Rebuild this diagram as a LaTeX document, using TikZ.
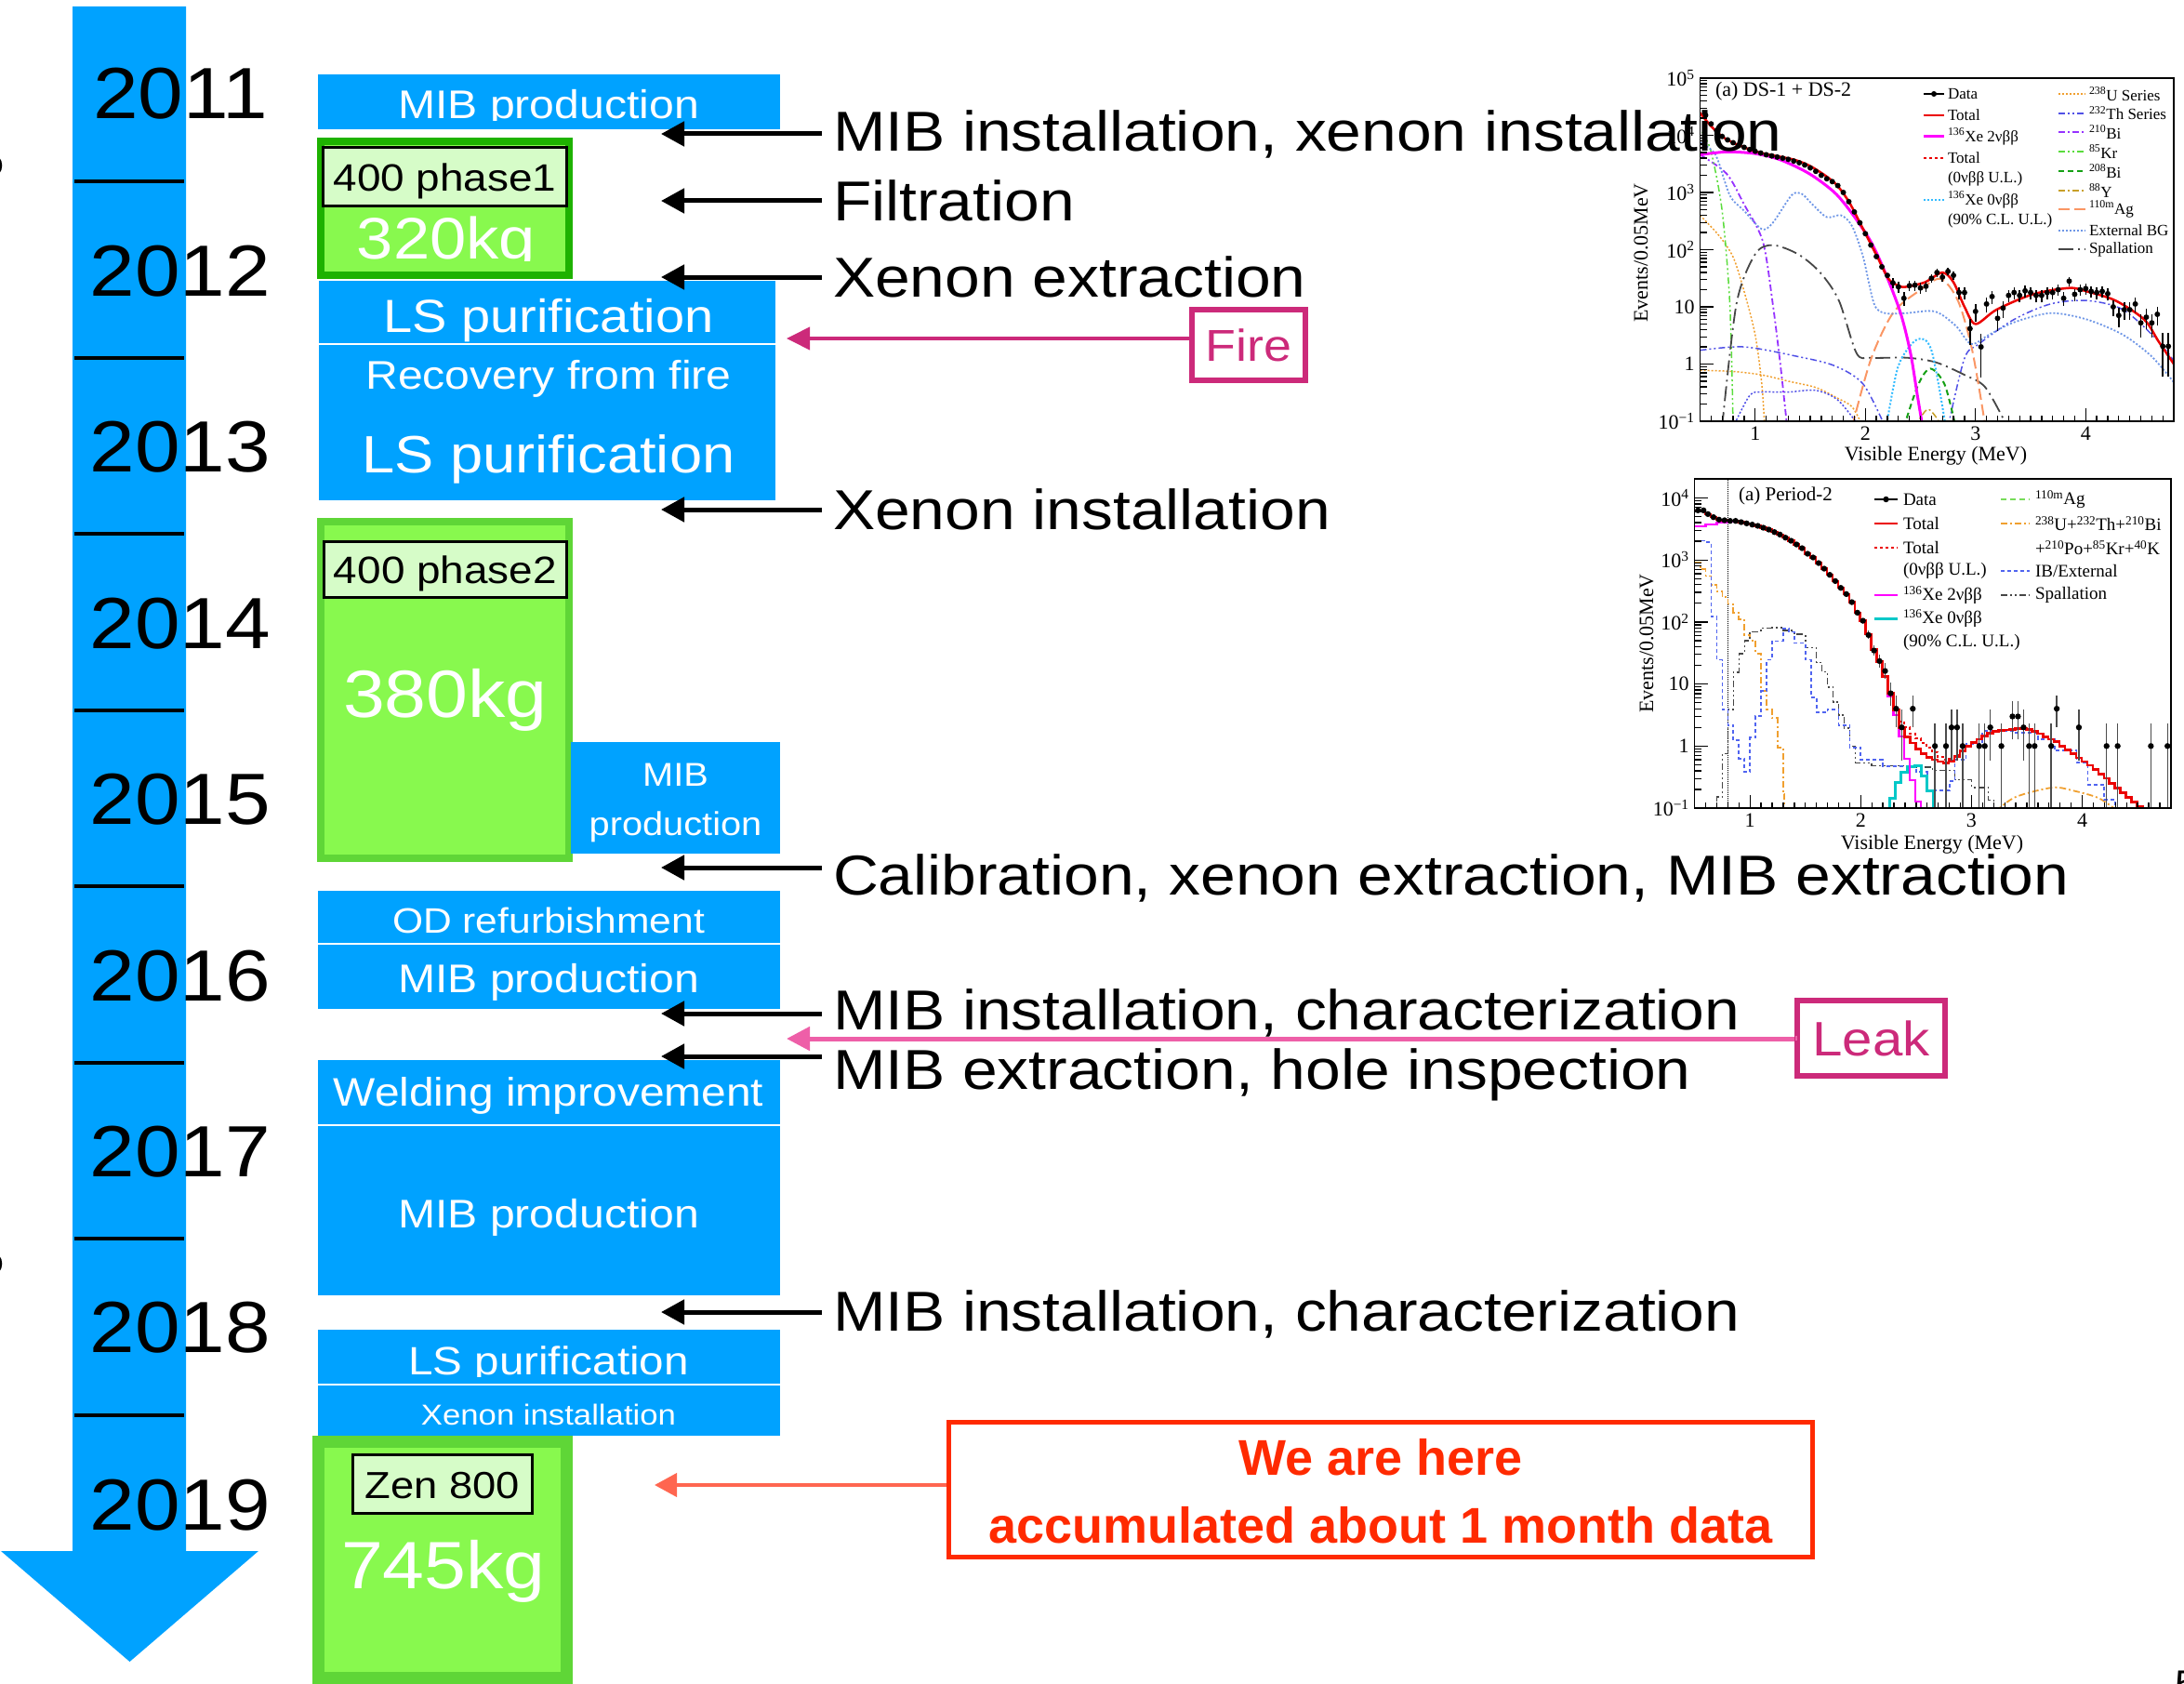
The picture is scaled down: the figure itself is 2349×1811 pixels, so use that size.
\documentclass[tikz,border=0pt]{standalone}
\usepackage{fontspec}
\setmainfont{Liberation Sans}[FakeStretch=1.12]
\newfontfamily\plotfont{Liberation Serif}
\newfontfamily\redfont{Liberation Sans}
\usetikzlibrary{arrows.meta}
\definecolor{tlblue}{RGB}{0,162,255}
\definecolor{gborderA}{RGB}{30,178,0}
\definecolor{gborderB}{RGB}{95,214,55}
\definecolor{gfill}{RGB}{136,249,78}
\definecolor{lblfill}{RGB}{214,252,200}
\definecolor{firemag}{RGB}{204,42,122}
\definecolor{leakpink}{RGB}{238,95,168}
\definecolor{herered}{RGB}{255,42,0}
\definecolor{herearrow}{RGB}{255,102,80}
\definecolor{pred}{RGB}{235,0,0}
\definecolor{pmag}{RGB}{255,0,255}
\definecolor{pcyanA}{RGB}{51,187,255}
\definecolor{pcyanB}{RGB}{0,200,200}
\definecolor{porange}{RGB}{240,160,48}
\definecolor{pth}{RGB}{80,80,230}
\definecolor{pbi}{RGB}{150,50,255}
\definecolor{pkr}{RGB}{90,220,60}
\definecolor{pbib}{RGB}{20,160,20}
\definecolor{pyy}{RGB}{200,160,40}
\definecolor{pag}{RGB}{250,150,100}
\definecolor{pext}{RGB}{110,150,230}
\definecolor{pspal}{RGB}{70,70,70}
\definecolor{pib}{RGB}{80,100,240}
\definecolor{pagb}{RGB}{120,220,90}
\newcommand\setfs[1]{\fontsize{#1}{#1}\selectfont}
\begin{document}
\begin{tikzpicture}[x=1pt,y=-1pt,
  every node/.style={inner sep=0pt,outer sep=0pt},
  bluebox/.style={fill=tlblue,draw=none},
  wtext/.style={text=white,anchor=base},
  greenbox/.style={fill=gfill,line width=8pt},
  lblbox/.style={fill=lblfill,draw=black,line width=3pt},
  lbltext/.style={anchor=base,font=\setfs{41}},
  yearlabel/.style={anchor=base,font=\setfs{78}},
  rtext/.style={anchor=base west,font=\setfs{60.5}},
  blackarrow/.style={line width=5pt,-{Triangle[length=25pt,width=26pt]}},
  sepline/.style={draw=white,line width=2pt},
  yearsep/.style={draw=black,line width=4pt},
  axtick/.style={line width=1.3pt},
  plotframe/.style={draw=black,line width=1.6pt},
  ptext/.style={font=\plotfont\setfs{#1}},
  dotln/.style={dash pattern=on 2pt off 2pt},
  dshdot/.style={dash pattern=on 7pt off 3pt on 2pt off 3pt},
  dshdotdot/.style={dash pattern=on 7pt off 3pt on 2pt off 3pt on 2pt off 3pt},
  lngdash/.style={dash pattern=on 12pt off 5pt},
  lngdashdot/.style={dash pattern=on 16pt off 5pt on 2pt off 5pt},
  medash/.style={dash pattern=on 6pt off 4pt},
  cTot/.style={draw=pred,line width=2.5pt},
  cTotD/.style={draw=pred,line width=2pt,dash pattern=on 3pt off 3pt},
  c2nu/.style={draw=pmag,line width=3pt},
  c0nu/.style={draw=pcyanA,line width=2pt,dotln},
  cU/.style={draw=porange,line width=1.5pt,dotln},
  cTh/.style={draw=pth,line width=1.5pt,dshdotdot},
  cThb/.style={draw=pth,line width=1.5pt,dotln},
  cBi/.style={draw=pbi,line width=1.8pt,dshdot},
  cKr/.style={draw=pkr,line width=1.5pt,dshdotdot},
  cBib/.style={draw=pbib,line width=2pt,medash},
  cY/.style={draw=pyy,line width=1.5pt,dshdot},
  cAg/.style={draw=pag,line width=2pt,lngdash},
  cExt/.style={draw=pext,line width=1.8pt,dotln},
  cSpal/.style={draw=pspal,line width=1.8pt,lngdashdot},
  b2nu/.style={draw=pmag,line width=2.2pt},
  b0nu/.style={draw=pcyanB,line width=3pt},
  bAg/.style={draw=pagb,line width=2pt,medash},
  bU/.style={draw=porange,line width=1.8pt,dshdot},
  bIB/.style={draw=pib,line width=1.8pt,dash pattern=on 4pt off 3pt},
  bSpal/.style={draw=pspal,line width=1.5pt,dshdotdot}
]
\useasboundingbox (0,0) rectangle (2349,1811);

% ================= TOP PLOT =================
\begin{scope}[shift={(1769.25,391.5)},x=118.5pt,y=61.5pt]
 \begin{scope}
  \clip (0.5,-1) rectangle (4.8,5);
  \draw[cU] plot[smooth] coordinates {(0.5,2.60) (0.67,2.25) (0.80,1.87) (0.9,1.27) (1.0,0.51) (1.06,-0.35) (1.09,-1.2)};
  \draw[cU] plot[smooth] coordinates {(0.5,-0.11) (0.8,-0.13) (1.06,-0.19) (1.3,-0.3) (1.55,-0.41) (1.75,-0.6) (1.88,-0.75) (1.98,-1.1)};
  \draw[cTh] plot[smooth] coordinates {(0.5,0.24) (0.9,0.30) (1.39,0.13) (1.72,-0.03) (1.98,-0.35) (2.18,-1.1)};
  \draw[cTh] plot[smooth] coordinates {(2.75,-1.1) (2.9,0.1) (3.03,0.35) (3.35,0.78) (3.68,1.05) (4.01,1.11) (4.34,0.95) (4.66,0.40) (4.8,0.05)};
  \draw[cThb] plot[smooth] coordinates {(0.8,-1.1) (0.95,-0.55) (1.06,-0.49) (1.3,-0.49) (1.55,-0.46) (1.75,-0.63) (1.95,-1.1)};
  \draw[cBi] plot[smooth] coordinates {(0.5,3.66) (0.74,3.33) (0.9,2.79) (1.07,2.14) (1.16,1.05) (1.23,-0.03) (1.29,-1.1)};
  \draw[cKr] plot[smooth] coordinates {(0.52,4.06) (0.6,3.71) (0.70,2.68) (0.77,1.05) (0.80,-1.1)};
  \draw[cSpal] plot[smooth] coordinates {(0.7,-1.1) (0.83,1.05) (1.0,1.92) (1.16,2.08) (1.39,1.92) (1.59,1.60) (1.76,1.11) (1.92,0.19) (2.05,0.11) (2.38,0.11) (2.64,0.03) (2.90,-0.19) (3.09,-0.41) (3.29,-1.1)};
  \draw[cAg] plot[smooth] coordinates {(1.88,-1.1) (2.05,0.08) (2.25,0.89) (2.48,1.27) (2.68,1.49) (2.84,1.11) (2.97,0.24) (3.09,-1.1)};
  \draw[c0nu] plot[smooth] coordinates {(2.19,-1.1) (2.30,-0.03) (2.47,0.43) (2.6,0.24) (2.73,-1.1)};
  \draw[cBib] plot[smooth] coordinates {(2.35,-1.1) (2.48,-0.36) (2.59,-0.08) (2.72,-0.36) (2.82,-1.1)};
  \draw[cY] plot[smooth] coordinates {(2.45,-1.1) (2.57,-0.79) (2.70,-1.1)};
  \draw[cExt] plot[smooth] coordinates {(0.5,3.87) (0.64,3.66) (0.77,2.95) (0.9,2.68) (1.06,2.36) (1.16,2.47) (1.33,2.95) (1.42,2.98) (1.52,2.79) (1.65,2.57) (1.78,2.6) (1.88,2.41) (1.98,1.87) (2.08,1.05) (2.18,0.89) (2.37,0.89) (2.63,0.92) (2.82,0.67) (2.96,0.35) (3.12,0.51) (3.35,0.73) (3.68,0.89) (4.01,0.78) (4.34,0.51) (4.60,0.13) (4.8,-0.32)};
  \draw[c2nu] plot[smooth] coordinates {(0.5,3.66) (0.74,3.71) (1.0,3.68) (1.23,3.57) (1.49,3.33) (1.72,3.0) (1.88,2.63) (2.05,2.14) (2.18,1.60) (2.32,0.89) (2.41,0.19) (2.47,-0.52) (2.52,-1.1)};
  \draw[cTot] plot[smooth] coordinates {(0.5,4.39) (0.6,4.16) (0.7,3.98) (0.8,3.87) (0.9,3.79) (1.0,3.72) (1.13,3.66) (1.36,3.57) (1.52,3.44) (1.72,3.17) (1.85,2.84) (1.98,2.36) (2.11,1.87) (2.21,1.49) (2.30,1.37) (2.37,1.35) (2.54,1.43) (2.70,1.60) (2.80,1.43) (2.90,1.0) (3.0,0.70) (3.19,0.95) (3.52,1.22) (3.85,1.33) (4.01,1.27) (4.27,1.11) (4.53,0.78) (4.66,0.40) (4.8,0.0)};
  \foreach \e/\v in {0.55/4.35,0.6/4.2,0.65/4.08,0.7/3.98,0.75/3.92,0.8/3.87,0.85/3.82,0.9/3.79,0.95/3.75,1.0/3.72,1.05/3.69,1.1/3.66,1.15/3.64,1.2/3.62,1.25/3.6,1.3/3.58,1.35/3.55,1.4/3.52,1.45/3.48,1.5/3.43,1.55/3.37,1.6/3.3,1.65/3.24,1.7/3.19,1.75/3.12,1.8/3.0,1.85/2.84,1.9/2.66,1.95/2.47,2.0/2.28,2.05/2.08,2.1/1.88,2.15/1.7,2.2/1.55}
   {\fill (\e,\v) circle (3pt);}
  \foreach \e/\v in {2.25/1.42,2.3/1.35,2.35/1.15,2.4/1.37,2.45/1.38,2.5/1.33,2.55/1.36,2.6/1.5,2.65/1.6,2.7/1.52,2.75/1.62,2.8/1.55,2.85/1.25,2.9/1.25,2.95/0.62,3.0/0.92,3.05/0.3,3.1/1.05,3.15/1.18,3.2/0.8,3.25/0.98,3.3/1.2,3.35/1.25,3.4/1.2,3.45/1.28,3.5/1.25,3.55/1.2,3.6/1.2,3.65/1.25,3.7/1.25,3.75/1.3,3.8/1.15,3.85/1.45,3.9/1.22,3.95/1.3,4.0/1.32,4.05/1.27,4.1/1.25,4.15/1.27,4.2/1.23,4.25/1.0,4.3/0.85,4.35/0.95,4.4/0.95,4.45/1.05,4.5/0.72,4.55/0.82,4.6/0.72,4.65/0.87,4.7/0.31,4.75/0.31}
   {\pgfmathsetmacro\nn{pow(10,\v)}
    \pgfmathsetmacro\sq{sqrt(\nn)}
    \pgfmathsetmacro\hi{log10(\nn+\sq)}
    \pgfmathsetmacro\lo{log10(max(\nn-\sq,0.03))}
    \draw[line width=1.5pt] (\e,\lo) -- (\e,\hi);
    \fill (\e,\v) circle (3pt);}
 \end{scope}
 \draw[plotframe] (0.5,-1) rectangle (4.8,5);
 \foreach \d in {-1,...,4} {
   \draw[axtick] (0.5,\d) -- ++(14pt,0);
   \foreach \k in {2,...,9} {\draw[axtick] (0.5,{\d+log10(\k)}) -- ++(7pt,0);}
 }
 \foreach \e in {1,2,3,4} {\draw[axtick] (\e,-1) -- ++(0,14pt);}
 \foreach \e in {0.6,0.7,0.8,0.9,1.1,1.2,1.3,1.4,1.5,1.6,1.7,1.8,1.9,2.1,2.2,2.3,2.4,2.5,2.6,2.7,2.8,2.9,3.1,3.2,3.3,3.4,3.5,3.6,3.7,3.8,3.9,4.1,4.2,4.3,4.4,4.5,4.6,4.7} {\draw[axtick] (\e,-1) -- ++(0,6pt);}
 \foreach \d/\t/\nm in {-1/{10\textsuperscript{−1}}/a,0/1/b,1/10/c,2/{10\textsuperscript{2}}/d,3/{10\textsuperscript{3}}/e,4/{10\textsuperscript{4}}/f,5/{10\textsuperscript{5}}/g}
   {\node[ptext=22,anchor=east] (tya\nm) at ([xshift=-6pt]0.5,\d) {\t};}
 \foreach \e in {1,2,3,4} {\node[ptext=22,anchor=north] (txa\e) at ([yshift=-6pt]\e,-1) {\e};}
\end{scope}
\node[ptext=22,rotate=90] (ytitA) at (1765,272) {Events/0.05MeV};
\node[ptext=22] (xtitA) at (2082,490) {Visible Energy (MeV)};
\node[ptext=22,anchor=west] (titA) at (1845,98) {(a) DS-1 + DS-2};
% legend top
\draw[line width=1.3pt] (2069,101) -- (2091,101); \fill (2080,101) circle (3pt);
\draw[cTot] (2069,124) -- (2091,124);
\draw[c2nu] (2069,147) -- (2091,147);
\draw[cTotD] (2069,170) -- (2091,170);
\draw[c0nu] (2069,215) -- (2091,215);
\draw[cU] (2214,101) -- (2243,101);
\draw[cTh] (2214,122) -- (2243,122);
\draw[cBi] (2214,142) -- (2243,142);
\draw[cKr] (2214,163) -- (2243,163);
\draw[cBib] (2214,184) -- (2243,184);
\draw[cY] (2214,205) -- (2243,205);
\draw[cAg] (2214,225) -- (2243,225);
\draw[cExt] (2214,248) -- (2243,248);
\draw[cSpal] (2214,268) -- (2243,268);
\node[ptext=17,anchor=west] (lgA1) at (2095,101) {Data};
\node[ptext=17,anchor=west] (lgA2) at (2095,124) {Total};
\node[ptext=17,anchor=west] (lgA3) at (2095,147) {\textsuperscript{136}Xe 2νββ};
\node[ptext=17,anchor=west] (lgA4) at (2095,170) {Total};
\node[ptext=17,anchor=west] (lgA5) at (2095,192) {(0νββ U.L.)};
\node[ptext=17,anchor=west] (lgA6) at (2095,215) {\textsuperscript{136}Xe 0νββ};
\node[ptext=17,anchor=west] (lgA7) at (2095,237) {(90\% C.L. U.L.)};
\node[ptext=17,anchor=west] (lgA8) at (2247,101) {\textsuperscript{238}U Series};
\node[ptext=17,anchor=west] (lgA9) at (2247,122) {\textsuperscript{232}Th Series};
\node[ptext=17,anchor=west] (lgA10) at (2247,142) {\textsuperscript{210}Bi};
\node[ptext=17,anchor=west] (lgA11) at (2247,163) {\textsuperscript{85}Kr};
\node[ptext=17,anchor=west] (lgA12) at (2247,184) {\textsuperscript{208}Bi};
\node[ptext=17,anchor=west] (lgA13) at (2247,205) {\textsuperscript{88}Y};
\node[ptext=17,anchor=west] (lgA14) at (2247,225) {\textsuperscript{110m}Ag};
\node[ptext=17,anchor=west] (lgA15) at (2247,248) {External BG};
\node[ptext=17,anchor=west] (lgA16) at (2247,268) {Spallation};

% ================= BOTTOM PLOT =================
\begin{scope}[shift={(1763.1,802.3)},x=119.1pt,y=66.7pt]
 \begin{scope}
  \clip (0.5,-1) rectangle (4.8,4.31);
  \draw[densely dotted,line width=1pt] (0.8,-1) -- (0.8,4.31);
  \draw[bU] plot[const plot] coordinates {(0.5,2.96) (0.55,2.85) (0.6,2.74) (0.65,2.6) (0.7,2.49) (0.75,2.4) (0.8,2.29) (0.85,2.15) (0.9,2.04) (0.95,1.79) (1.0,1.7) (1.05,1.49) (1.1,0.89) (1.15,0.59) (1.2,0.45) (1.25,-0.02) (1.3,-0.77) (1.31,-1.1)};
  \draw[bU] plot[smooth] coordinates {(3.22,-1.05) (3.40,-0.82) (3.73,-0.67) (3.92,-0.72) (4.15,-0.84) (4.32,-1.05)};
  \draw[bSpal] plot[const plot] coordinates {(0.65,-1.1) (0.7,-0.82) (0.75,-0.12) (0.8,0.59) (0.85,1.19) (0.9,1.49) (0.95,1.7) (1.0,1.84) (1.1,1.9) (1.2,1.91) (1.3,1.86) (1.4,1.8) (1.5,1.59) (1.6,1.35) (1.65,1.2) (1.7,0.95) (1.75,0.71) (1.8,0.5) (1.85,0.29) (1.9,0.0) (1.95,-0.27) (2.1,-0.32) (2.4,-0.34) (2.65,-0.39) (2.85,-0.54) (3.0,-0.67) (3.15,-0.87) (3.2,-1.1)};
  \draw[bIB] plot[const plot] coordinates {(0.5,3.31) (0.6,3.29) (0.65,2.09) (0.7,1.39) (0.75,0.59) (0.8,0.34) (0.85,0.09) (0.9,-0.2) (0.95,-0.42) (1.0,0.14) (1.05,0.49) (1.1,0.89) (1.15,1.39) (1.2,1.69) (1.3,1.89) (1.35,1.84) (1.4,1.66) (1.5,1.39) (1.55,0.79) (1.6,0.54) (1.7,0.59) (1.8,0.34) (1.9,-0.02) (2.0,-0.22) (2.2,-0.32) (2.5,-0.42) (2.6,-0.72) (2.8,-0.57) (2.85,-0.22) (2.95,0.04) (3.1,0.24) (3.4,0.21) (3.6,0.11) (3.75,-0.07) (3.95,-0.27) (4.05,-0.62) (4.2,-0.87) (4.3,-1.1)};
  \draw[b0nu] plot[const plot] coordinates {(2.25,-1.1) (2.26,-0.84) (2.31,-0.59) (2.36,-0.42) (2.42,-0.34) (2.49,-0.32) (2.55,-0.49) (2.6,-0.72) (2.66,-1.1)};
  \draw[b2nu] plot[const plot] coordinates {(0.5,3.54) (0.6,3.57) (0.7,3.6) (0.795,3.62) (0.845,3.63) (0.895,3.61) (0.945,3.59) (0.995,3.57) (1.045,3.55) (1.095,3.52) (1.145,3.49) (1.195,3.45) (1.245,3.41) (1.295,3.36) (1.345,3.31) (1.395,3.25) (1.445,3.19) (1.495,3.10) (1.545,3.04) (1.595,2.95) (1.645,2.86) (1.695,2.76) (1.745,2.66) (1.795,2.55) (1.845,2.45) (1.895,2.32) (1.945,2.15) (1.995,2.02) (2.045,1.80) (2.095,1.56) (2.145,1.36) (2.195,1.12) (2.245,0.80) (2.295,0.5) (2.345,0.15) (2.395,-0.2) (2.445,-0.55) (2.495,-0.9) (2.545,-1.1)};
  \draw[cTotD] plot[const plot] coordinates {(2.295,0.58) (2.345,0.40) (2.395,0.30) (2.445,0.2) (2.495,0.12) (2.545,0.05) (2.595,-0.02) (2.645,-0.1) (2.695,-0.18) (2.745,-0.22) (2.795,-0.2) (2.845,-0.15) (2.895,-0.07) (2.945,0.0)};
  \draw[cTot] plot[const plot] coordinates {(0.5,3.80) (0.555,3.80) (0.595,3.74) (0.645,3.69) (0.695,3.65) (0.745,3.64) (0.795,3.63) (0.845,3.63) (0.895,3.61) (0.945,3.59) (0.995,3.57) (1.045,3.55) (1.095,3.52) (1.145,3.49) (1.195,3.45) (1.245,3.41) (1.295,3.36) (1.345,3.31) (1.395,3.25) (1.445,3.19) (1.495,3.10) (1.545,3.04) (1.595,2.95) (1.645,2.86) (1.695,2.76) (1.745,2.66) (1.795,2.55) (1.845,2.45) (1.895,2.32) (1.945,2.15) (1.995,2.02) (2.045,1.80) (2.095,1.56) (2.145,1.36) (2.195,1.12) (2.245,0.85) (2.295,0.58) (2.345,0.30) (2.395,0.15) (2.445,0.05) (2.495,-0.05) (2.545,-0.12) (2.595,-0.18) (2.645,-0.22) (2.695,-0.25) (2.745,-0.27) (2.795,-0.24) (2.845,-0.17) (2.895,-0.08) (2.945,0.0) (2.995,0.06) (3.045,0.11) (3.095,0.16) (3.145,0.21) (3.195,0.24) (3.245,0.25) (3.295,0.26) (3.345,0.27) (3.395,0.28) (3.445,0.29) (3.495,0.27) (3.545,0.24) (3.595,0.2) (3.645,0.15) (3.695,0.11) (3.745,0.07) (3.795,0.0) (3.845,-0.06) (3.895,-0.12) (3.945,-0.19) (3.995,-0.25) (4.045,-0.31) (4.095,-0.38) (4.145,-0.45) (4.195,-0.52) (4.245,-0.6) (4.295,-0.68) (4.345,-0.75) (4.395,-0.83) (4.445,-0.9) (4.495,-0.98) (4.545,-1.1)};
  \foreach \e/\v in {0.53/3.80,0.58/3.80,0.62/3.74,0.67/3.69,0.72/3.65,0.77/3.64,0.82/3.63,0.87/3.63,0.92/3.61,0.97/3.59,1.02/3.57,1.07/3.55,1.12/3.52,1.17/3.49,1.22/3.45,1.27/3.41,1.32/3.36,1.37/3.31,1.42/3.25,1.47/3.19,1.52/3.10,1.57/3.04,1.62/2.95,1.67/2.86,1.72/2.76,1.77/2.66,1.82/2.55,1.87/2.45,1.92/2.32,1.97/2.15,2.02/2.02}
   {\fill (\e,\v) circle (3.2pt);}
  \foreach \e/\v in {2.07/1.79,2.12/1.54,2.17/1.37,2.22/1.21,2.27/0.85,2.32/0.602,2.37/0.301,2.47/0.602,2.67/0,2.77/0,2.82/0.301,2.87/0.301,2.92/0,3.07/0,3.12/0,3.17/0.301,3.27/0,3.37/0.477,3.42/0.477,3.47/0.301,3.52/0,3.57/0,3.72/0,3.77/0.602,3.97/0.301,4.22/0,4.32/0,4.62/0,4.77/0}
   {\pgfmathsetmacro\nn{pow(10,\v)}
    \pgfmathsetmacro\sq{sqrt(\nn)}
    \pgfmathsetmacro\hi{log10(\nn+1.3*\sq)}
    \pgfmathsetmacro\lo{log10(max(\nn-\sq,0.03))}
    \draw[line width=1.4pt,black!70] (\e,\lo) -- (\e,\hi);
    \fill (\e,\v) circle (3.2pt);}
 \end{scope}
 \draw[plotframe] (0.5,-1) rectangle (4.8,4.31);
 \foreach \d in {-1,...,3} {
   \draw[axtick] (0.5,\d) -- ++(14pt,0);
   \foreach \k in {2,...,9} {\draw[axtick] (0.5,{\d+log10(\k)}) -- ++(7pt,0);}
 }
 \draw[axtick] (0.5,4) -- ++(14pt,0);
 \draw[axtick] (0.5,{4+log10(2)}) -- ++(7pt,0);
 \foreach \e in {1,2,3,4} {\draw[axtick] (\e,-1) -- ++(0,14pt);}
 \foreach \e in {0.6,0.7,0.8,0.9,1.1,1.2,1.3,1.4,1.5,1.6,1.7,1.8,1.9,2.1,2.2,2.3,2.4,2.5,2.6,2.7,2.8,2.9,3.1,3.2,3.3,3.4,3.5,3.6,3.7,3.8,3.9,4.1,4.2,4.3,4.4,4.5,4.6,4.7} {\draw[axtick] (\e,-1) -- ++(0,6pt);}
 \foreach \d/\t/\nm in {-1/{10\textsuperscript{−1}}/a,0/1/b,1/10/c,2/{10\textsuperscript{2}}/d,3/{10\textsuperscript{3}}/e,4/{10\textsuperscript{4}}/f}
   {\node[ptext=22,anchor=east] (tyb\nm) at ([xshift=-6pt]0.5,\d) {\t};}
 \foreach \e in {1,2,3,4} {\node[ptext=22,anchor=north] (txb\e) at ([yshift=-6pt]\e,-1) {\e};}
\end{scope}
\node[ptext=22,rotate=90] (ytitB) at (1771,692) {Events/0.05MeV};
\node[ptext=22] (xtitB) at (2078,908) {Visible Energy (MeV)};
\node[ptext=21,anchor=west] (titB) at (1870,533) {(a) Period-2};
\draw[line width=1.3pt] (2016,537) -- (2041,537); \fill (2028.5,537) circle (3.2pt);
\draw[cTot] (2016,563) -- (2041,563);
\draw[cTotD] (2016,589) -- (2041,589);
\draw[b2nu] (2016,640) -- (2041,640);
\draw[b0nu] (2016,665) -- (2041,665);
\draw[bAg] (2152,537) -- (2183,537);
\draw[bU] (2152,563) -- (2183,563);
\draw[bIB] (2152,614) -- (2183,614);
\draw[bSpal] (2152,640) -- (2183,640);
\node[ptext=19,anchor=west] (lgB1) at (2047,537) {Data};
\node[ptext=19,anchor=west] (lgB2) at (2047,563) {Total};
\node[ptext=19,anchor=west] (lgB3) at (2047,589) {Total};
\node[ptext=19,anchor=west] (lgB4) at (2047,614) {(0νββ U.L.)};
\node[ptext=19,anchor=west] (lgB5) at (2047,640) {\textsuperscript{136}Xe 2νββ};
\node[ptext=19,anchor=west] (lgB6) at (2047,665) {\textsuperscript{136}Xe 0νββ};
\node[ptext=19,anchor=west] (lgB7) at (2047,691) {(90\% C.L. U.L.)};
\node[ptext=19,anchor=west] (lgB8) at (2189,537) {\textsuperscript{110m}Ag};
\node[ptext=19,anchor=west] (lgB9) at (2189,563) {\textsuperscript{238}U+\textsuperscript{232}Th+\textsuperscript{210}Bi};
\node[ptext=19,anchor=west] (lgB10) at (2189,589) {+\textsuperscript{210}Po+\textsuperscript{85}Kr+\textsuperscript{40}K};
\node[ptext=19,anchor=west] (lgB11) at (2189,614) {IB/External};
\node[ptext=19,anchor=west] (lgB12) at (2189,640) {Spallation};

% ================= TIMELINE =================
\fill[tlblue] (78,7) -- (200,7) -- (200,1668) -- (278,1668) -- (139.5,1787) -- (1,1668) -- (78,1668) -- cycle;
\foreach \yy in {195,385,574,764,953,1143,1332,1522} {\draw[yearsep] (80,\yy) -- (198,\yy);}
\node[yearlabel] (y2011) at (194,128) {2011};
\node[yearlabel] (y2012) at (194,318) {2012};
\node[yearlabel] (y2013) at (194,507) {2013};
\node[yearlabel] (y2014) at (194,697) {2014};
\node[yearlabel] (y2015) at (194,886) {2015};
\node[yearlabel] (y2016) at (194,1076) {2016};
\node[yearlabel] (y2017) at (194,1265) {2017};
\node[yearlabel] (y2018) at (194,1454) {2018};
\node[yearlabel] (y2019) at (194,1645) {2019};

% ================= BOXES =================
\node[bluebox,minimum width=497pt,minimum height=59pt] (b1) at (590.5,109.5) {};
\begin{scope}\clip (342,80) rectangle (839,130);
\node[wtext,font=\setfs{43}] (b1t) at (590,128) {MIB production};
\end{scope}

\node[greenbox,draw=gborderA,minimum width=267pt,minimum height=144pt] (g1) at (478.5,224) {};
\node[lblbox,minimum width=262pt,minimum height=63pt] (l1) at (478.5,190) {};
\node[lbltext] (l1t) at (478.5,206) {400 phase1};
\begin{scope}\clip (349,224) rectangle (608,280);
\node[wtext,font=\setfs{63}] (g1t) at (480,278) {320kg};
\end{scope}

\node[bluebox,minimum width=491pt,minimum height=236pt] (b2) at (588.5,420) {};
\draw[sepline] (343,370) -- (834,370);
\node[wtext,font=\setfs{50}] (b2a) at (590,357) {LS purification};
\node[wtext,font=\setfs{43}] (b2b) at (590,418) {Recovery from fire};
\node[wtext,font=\setfs{56.5}] (b2c) at (590,508) {LS purification};

\node[greenbox,draw=gborderB,minimum width=267pt,minimum height=362pt] (g2) at (478.5,742) {};
\node[lblbox,minimum width=261pt,minimum height=60pt] (l2) at (479,612.5) {};
\node[lbltext] (l2t) at (479,627) {400 phase2};
\node[wtext,font=\setfs{72}] (g2t) at (479,771) {380kg};

\node[bluebox,minimum width=225pt,minimum height=120pt] (b3) at (726.5,858) {};
\node[wtext,font=\setfs{35.5}] (b3a) at (726.5,845) {MIB};
\node[wtext,font=\setfs{35.5}] (b3b) at (726.5,898) {production};

\node[bluebox,minimum width=497pt,minimum height=127pt] (b4) at (590.5,1021.5) {};
\draw[sepline] (342,1015) -- (839,1015);
\begin{scope}\clip (342,958) rectangle (839,1005);
\node[wtext,font=\setfs{38}] (b4a) at (590,1003) {OD refurbishment};
\end{scope}
\node[wtext,font=\setfs{43}] (b4b) at (590,1067) {MIB production};

\node[bluebox,minimum width=497pt,minimum height=253pt] (b5) at (590.5,1266.5) {};
\draw[sepline] (342,1210) -- (839,1210);
\node[wtext,font=\setfs{42.8}] (b5a) at (590,1189) {Welding improvement};
\node[wtext,font=\setfs{43}] (b5b) at (590,1320) {MIB production};

\node[bluebox,minimum width=497pt,minimum height=114pt] (b6) at (590.5,1487) {};
\draw[sepline] (342,1489) -- (839,1489);
\begin{scope}\clip (342,1430) rectangle (839,1480);
\node[wtext,font=\setfs{42.5}] (b6a) at (590,1478) {LS purification};
\end{scope}
\node[wtext,font=\setfs{31}] (b6b) at (590,1532) {Xenon installation};

\node[greenbox,draw=gborderB,line width=13pt,minimum width=267pt,minimum height=254pt] (g3) at (476,1677.5) {};
\node[lblbox,minimum width=193pt,minimum height=63pt] (l3) at (476,1596) {};
\node[lbltext,font=\setfs{40.5}] (l3t) at (476,1611) {Zen 800};
\node[wtext,font=\setfs{72}] (g3t) at (477,1708) {745kg};

% ================= ARROWS & RIGHT TEXTS =================
\foreach \yy/\nm in {144/a,216/b,298/c,548/d,933/e,1090/f,1136/g,1411/h} {
  \coordinate (as\nm) at (884,\yy);
  \coordinate (ae\nm) at (711,\yy);
  \draw[blackarrow] (as\nm) -- (ae\nm);
}
\node[rtext] (t1) at (896,163) {MIB installation, xenon installation};
\node[rtext] (t2) at (896,238) {Filtration};
\node[rtext] (t3) at (896,319) {Xenon extraction};
\node[rtext] (t4) at (896,569) {Xenon installation};
\node[rtext] (t5) at (896,962) {Calibration, xenon extraction, MIB extraction};
\node[rtext] (t6) at (896,1107) {MIB installation, characterization};
\node[rtext] (t7) at (896,1171) {MIB extraction, hole inspection};
\node[rtext] (t8) at (896,1431) {MIB installation, characterization};

% Fire
\node[draw=firemag,line width=6pt,text=firemag,minimum width=122pt,minimum height=76pt,font=\setfs{48}] (fire) at (1343,371) {Fire};
\coordinate (fireS) at (1280,364);
\coordinate (fireE) at (846,364);
\draw[draw=firemag,line width=4pt,-{Triangle[length=25pt,width=24pt]}] (fireS) -- (fireE);

% Leak
\coordinate (leakE) at (846,1117);
\coordinate (leakS) at (1933,1117);
\draw[draw=leakpink,line width=5pt,-{Triangle[length=25pt,width=25pt]}] (leakS) -- (leakE);
\node[draw=firemag,fill=white,line width=6pt,text=firemag,minimum width=159pt,minimum height=81pt,font=\setfs{52}] (leak) at (2012.5,1116.5) {Leak};
\draw[draw=leakpink,line width=5pt] (leak.west) -- ++(-2,0);

% We are here
\node[draw=herered,line width=5pt,minimum width=929pt,minimum height=145pt] (here) at (1485,1602) {};
\node[anchor=base,text=herered,font=\redfont\bfseries\setfs{54}] (here1) at (1485,1586) {We are here};
\node[anchor=base,text=herered,font=\redfont\bfseries\setfs{54}] (here2) at (1485,1659) {accumulated about 1 month data};
\coordinate (hereS) at (1018,1597);
\coordinate (hereE) at (704,1597);
\draw[draw=herearrow,line width=4pt,-{Triangle[length=24pt,width=25pt]}] (hereS) -- (hereE);

% edge fragments
\draw[line width=2.5pt] (-8,189) arc[start angle=90,end angle=-90,x radius=9,y radius=11];
\draw[line width=2.5pt] (-8,1370) arc[start angle=90,end angle=-90,x radius=9,y radius=11];
\node[anchor=north west,font=\setfs{40}] (pnum) at (2339,1797) {5};
\end{tikzpicture}
\end{document}
